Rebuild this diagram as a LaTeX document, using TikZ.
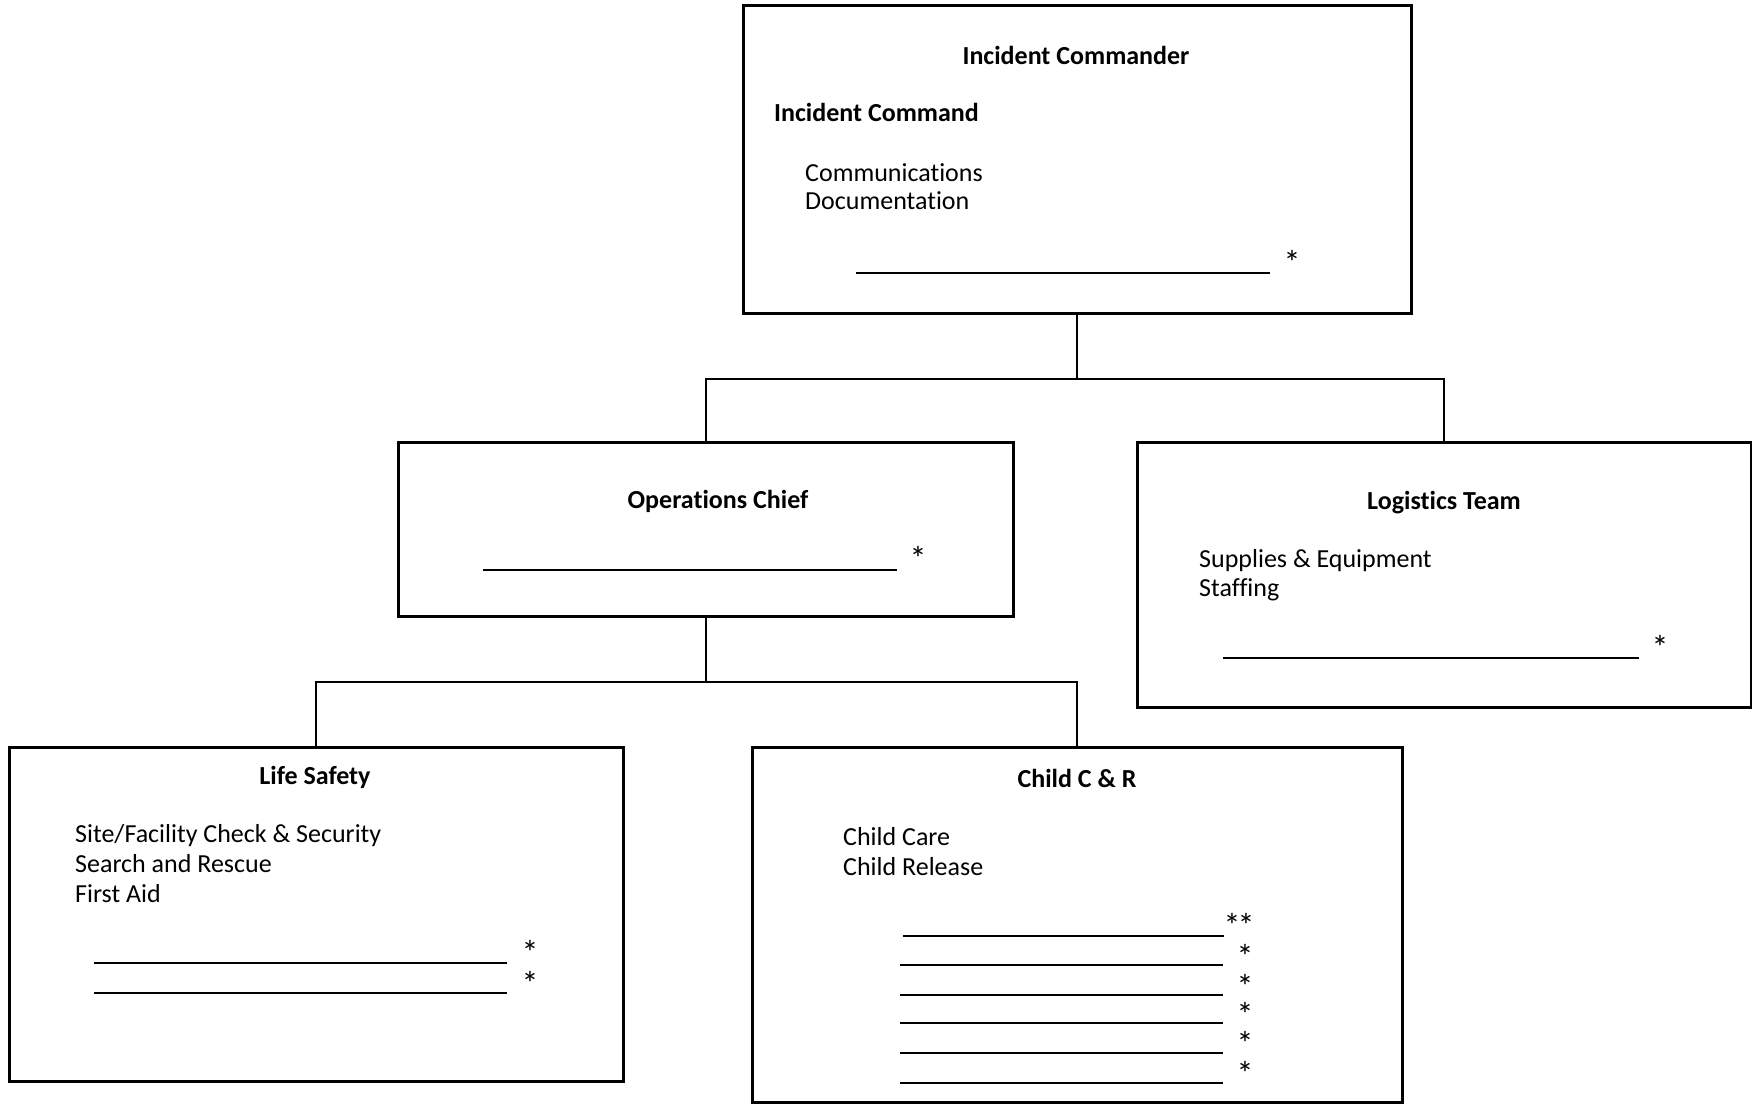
\documentclass[tikz,border=0pt]{standalone}
\usepackage{fontspec}
\setmainfont{Carlito}[Ligatures=NoCommon]
\usetikzlibrary{calc}

\begin{document}
\begin{tikzpicture}[x=1pt, y=-1pt,
    box/.style={draw, line width=2.5pt, inner sep=0pt, anchor=north west},
    txt/.style={inner sep=0pt, anchor=base west, font=\fontsize{26}{30}\selectfont},
    head/.style={inner sep=0pt, anchor=base, font=\fontsize{26}{30}\selectfont\bfseries},
    star/.style={inner sep=0pt, anchor=base, font=\fontsize{34}{34}\selectfont},
    blank/.style={line width=2pt},
    link/.style={line width=2pt}]
  \useasboundingbox (0,0) rectangle (1752,1104);

  % boxes
  \node[box, minimum width=668pt, minimum height=308pt] (ic) at (742,4) {};
  \node[box, minimum width=615pt, minimum height=174pt] (ops) at (397,441) {};
  \node[box, minimum width=614pt, minimum height=265pt] (log) at (1136,441) {};
  \node[box, minimum width=614pt, minimum height=334pt] (ls) at (8,746) {};
  \node[box, minimum width=650pt, minimum height=355pt] (child) at (751,746) {};

  % connectors
  \coordinate (topjoin) at ($(ic.south)+(0,64)$);
  \coordinate (opsjoin) at ($(ops.south)+(0,64)$);
  \draw[link] (ic.south) -- (topjoin);
  \draw[link] (ops.north) |- (topjoin) -| (log.north);
  \draw[link] (ops.south) -- (opsjoin);
  \draw[link] (ls.north) |- (opsjoin) -| (child.north);

  % incident commander
  \node[head] (ictitle) at (1076,64) {Incident Commander};
  \node[txt, font=\fontsize{26}{30}\selectfont\bfseries] (iccmd) at (774,121) {Incident Command};
  \node[txt] (iccom) at (805,181) {Communications};
  \node[txt] (icdoc) at (805,209) {Documentation};
  \draw[blank] (856,273) -- (1270,273);
  \node[star] (icstar) at (1292,274) {*};

  % operations chief
  \node[head] (opstitle) at (718,508) {Operations Chief};
  \draw[blank] (483,570) -- (897,570);
  \node[star] (opsstar) at (918,570) {*};

  % logistics team
  \node[head] (logtitle) at (1444,509) {Logistics Team};
  \node[txt] (logsup) at (1199,567) {Supplies \& Equipment};
  \node[txt] (logstaff) at (1199,596) {Staffing};
  \draw[blank] (1223,658) -- (1639,658);
  \node[star] (logstar) at (1660,659) {*};

  % life safety
  \node[head] (lstitle) at (315,784) {Life Safety};
  \node[txt] (lssite) at (75,842) {Site/Facility Check \& Security};
  \node[txt] (lssearch) at (75,872) {Search and Rescue};
  \node[txt] (lsaid) at (75,902) {First Aid};
  \draw[blank] (94,963) -- (507,963);
  \draw[blank] (94,993) -- (507,993);
  \node[star] (lsstara) at (530,964) {*};
  \node[star] (lsstarb) at (530,995) {*};

  % child care and release
  \node[head] (childtitle) at (1077,787) {Child C \& R};
  \node[txt] (childcare) at (843,845) {Child Care};
  \node[txt] (childrel) at (843,875) {Child Release};
  \draw[blank] (903,936) -- (1224,936);
  \draw[blank] (900,965) -- (1223,965);
  \draw[blank] (900,995) -- (1223,995);
  \draw[blank] (900,1023) -- (1223,1023);
  \draw[blank] (900,1053) -- (1223,1053);
  \draw[blank] (900,1083) -- (1223,1083);
  \node[star] (childstara) at (1239,937) {*\kern-3pt*};
  \node[star] (childstarb) at (1245,968) {*};
  \node[star] (childstarc) at (1245,998) {*};
  \node[star] (childstard) at (1245,1026) {*};
  \node[star] (childstare) at (1245,1055) {*};
  \node[star] (childstarf) at (1245,1085) {*};
\end{tikzpicture}
\end{document}
